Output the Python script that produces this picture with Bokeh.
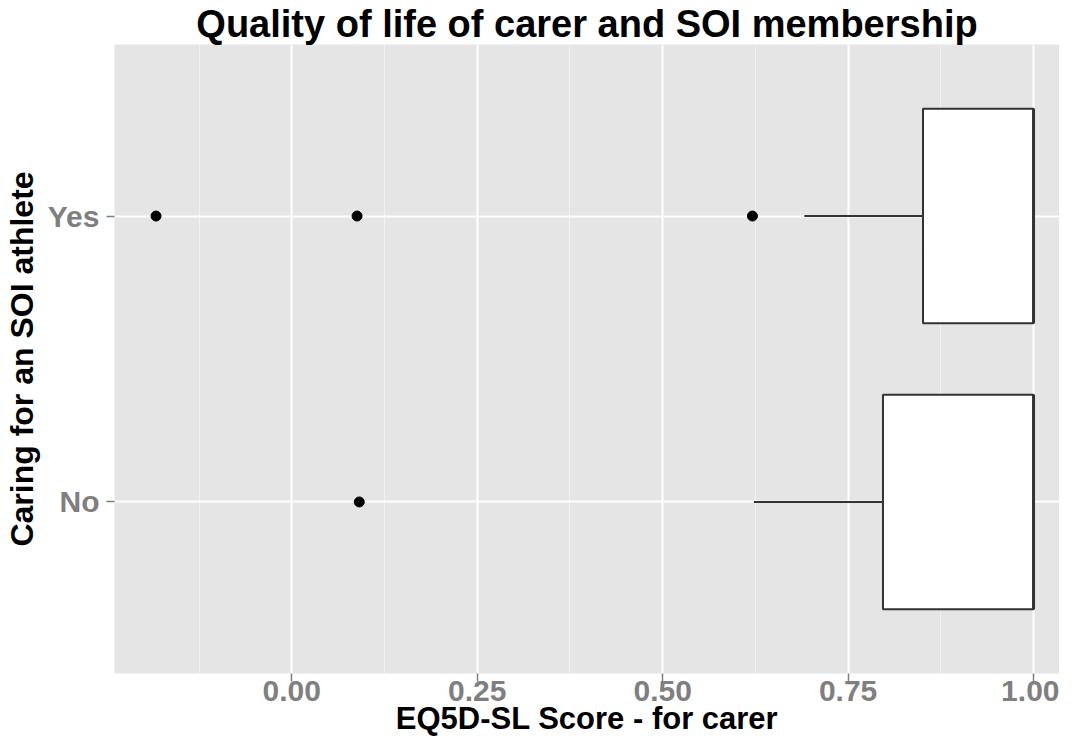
from bokeh.plotting import figure
from bokeh.models import FactorRange, Range1d, FixedTicker
from bokeh.embed import file_html
from bokeh.resources import INLINE

# ---- data ----
categories = ["No", "Yes"]
q1 = [0.797, 0.851]
median = [1.0, 1.0]
q3 = [1.0, 1.0]
whisker_low = [0.623, 0.691]
outlier_group = ["Yes", "Yes", "Yes", "No"]
outlier_value = [-0.183, 0.088, 0.621, 0.091]
x_ticks = [0.0, 0.25, 0.50, 0.75, 1.00]
x_tick_labels = ["0.00", "0.25", "0.50", "0.75", "1.00"]
x_minor = [-0.125, 0.125, 0.375, 0.625, 0.875]
x_title = "EQ5D-SL Score - for carer"
y_title = "Caring for an SOI athlete"
main_title = "Quality of life of carer and SOI membership"

FONT = "Liberation Sans"
X_START, X_END = -0.239, 1.035

p = figure(
    width=1059, height=738,
    y_range=FactorRange(factors=categories, range_padding=0.1),
    x_range=Range1d(X_START, X_END),
    output_backend="svg", toolbar_location=None,
    title=main_title,
    min_border=0,
    min_border_left=0, min_border_right=0, min_border_top=0, min_border_bottom=0,
)

p.background_fill_color = "#E5E5E5"
p.border_fill_color = "white"
p.outline_line_color = None

p.title.text_font = FONT
p.title.text_font_size = "38px"
p.title.text_font_style = "bold"
p.title.text_color = "black"
p.title.align = "center"
p.title.standoff = 0
p.title.offset = 0

# grids
p.xgrid.ticker = FixedTicker(ticks=x_ticks, minor_ticks=x_minor)
p.xgrid.grid_line_color = "white"
p.xgrid.grid_line_width = 2
p.xgrid.minor_grid_line_color = "#F2F2F2"
p.xgrid.minor_grid_line_width = 1
p.ygrid.grid_line_color = "white"
p.ygrid.grid_line_width = 2

# axes
p.xaxis.ticker = FixedTicker(ticks=x_ticks)
p.xaxis.major_label_overrides = {t: l for t, l in zip(x_ticks, x_tick_labels)}
for ax in (p.xaxis[0], p.yaxis[0]):
    ax.axis_line_color = None
    ax.major_tick_line_color = "#7F7F7F"
    ax.major_tick_line_width = 1.5
    ax.major_tick_in = 0
    ax.major_tick_out = 8
    ax.minor_tick_line_color = None
    ax.major_label_text_font = FONT
    ax.major_label_text_font_size = "30px"
    ax.major_label_text_font_style = "bold"
    ax.major_label_text_color = "#7F7F7F"
    ax.axis_label_text_font = FONT
    ax.axis_label_text_font_style = "bold"
    ax.axis_label_text_color = "black"

p.xaxis.axis_label = x_title
p.xaxis.axis_label_text_font_size = "31px"
p.xaxis.major_label_standoff = -1
p.xaxis.axis_label_standoff = -3

p.yaxis.axis_label = y_title
p.yaxis.axis_label_text_font_size = "32px"
p.yaxis.major_label_standoff = 7
p.yaxis.axis_label_standoff = 5

# whiskers
p.segment(x0=whisker_low, y0=categories, x1=q1, y1=categories,
          line_color="#333333", line_width=2)
# boxes
p.hbar(y=categories, left=q1, right=q3, height=0.75,
       fill_color="white", line_color="#333333", line_width=2)
# medians
p.segment(x0=median, y0=[(c, -0.375) for c in categories],
          x1=median, y1=[(c, 0.375) for c in categories],
          line_color="#333333", line_width=3)
# outliers
p.scatter(x=outlier_value, y=outlier_group, size=10, color="black")

open("out.html", "w").write(file_html(p, INLINE))
